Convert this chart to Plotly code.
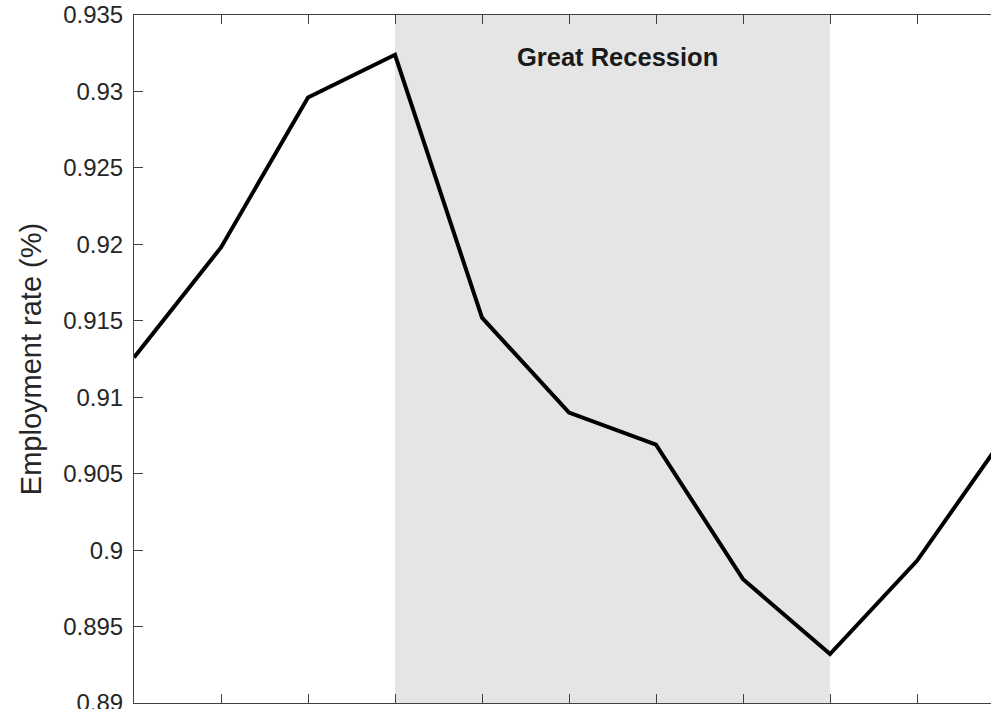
import plotly.graph_objects as go

years = [2004, 2005, 2006, 2007, 2008, 2009, 2010, 2011, 2012, 2013, 2014]
employment_rate = [0.9126, 0.9198, 0.9296, 0.9324, 0.9152, 0.9090, 0.9069, 0.8981, 0.8932, 0.8993, 0.9074]
recession_start, recession_end = 2007, 2012
recession_label = "Great Recession"
y_ticks = [0.89, 0.895, 0.9, 0.905, 0.91, 0.915, 0.92, 0.925, 0.93, 0.935]
y_tick_text = ["0.89", "0.895", "0.9", "0.905", "0.91", "0.915", "0.92", "0.925", "0.93", "0.935"]

axis_color = "#404040"
font_family = "Liberation Sans, Arial, sans-serif"

fig = go.Figure()
fig.add_shape(type="rect", xref="x", yref="paper", x0=recession_start, x1=recession_end,
              y0=0, y1=1, fillcolor="#e5e5e5", line_width=0, layer="below")
fig.add_trace(go.Scatter(x=years, y=employment_rate, mode="lines",
                         line=dict(color="black", width=4), showlegend=False, cliponaxis=True))
fig.add_annotation(x=2009.56, y=0.93225, xref="x", yref="y", text="<b>" + recession_label + "</b>",
                   showarrow=False, font=dict(family=font_family, size=25.5, color="#1a1a1a"))

fig.update_layout(
    width=991, height=709,
    margin=dict(l=134, r=0, t=15, b=6),
    paper_bgcolor="white", plot_bgcolor="white",
    template="none",
    font=dict(family=font_family, color="#262626"),
)
fig.update_xaxes(range=[2004, 2004 + (991 - 134) / 87.0], tickvals=years, showticklabels=False,
                 ticks="inside", ticklen=9, tickwidth=1, tickcolor=axis_color,
                 showline=True, linecolor=axis_color, linewidth=1, mirror="ticks",
                 showgrid=False, zeroline=False, automargin=False)
fig.update_yaxes(range=[0.89, 0.935], tickvals=y_ticks, ticktext=y_tick_text,
                 ticks="inside", ticklen=9, tickwidth=1, tickcolor=axis_color,
                 showline=True, linecolor=axis_color, linewidth=1,
                 showgrid=False, zeroline=False, automargin=False,
                 ticklabeloverflow="allow",
                 tickfont=dict(size=24, color="#262626"), ticklabelstandoff=5,
                 title=dict(text="Employment rate (%)", font=dict(size=29, color="#262626"), standoff=12))

fig.write_html(
    "out.html",
    config={"displayModeBar": False},
    post_script="document.body.style.margin='0';document.documentElement.style.overflow='hidden';document.body.style.overflow='hidden';",
)
